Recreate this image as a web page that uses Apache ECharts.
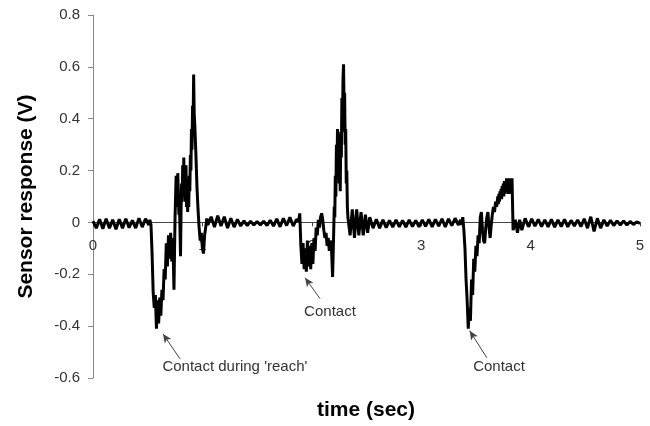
<!DOCTYPE html>
<html>
<head>
<meta charset="utf-8">
<title>Sensor response</title>
<script src="https://cdn.jsdelivr.net/npm/echarts@6/dist/echarts.min.js"></script>
<style>
  html, body { margin: 0; padding: 0; background: #fff; }
  #chart { width: 650px; height: 426px; }
</style>
</head>
<body>
<div id="chart"></div>
<script>
// [time (s), response (V)], one array per stretch
const restStart = [
  [0.00, 0.005], [0.03, -0.022], [0.06, 0.012], [0.09, -0.024], [0.12, 0.014], [0.15, -0.022],
  [0.18, 0.01], [0.21, -0.026], [0.24, 0.012], [0.27, -0.022], [0.30, 0.014], [0.33, -0.02],
  [0.36, 0.008], [0.39, -0.022], [0.42, 0.016], [0.45, -0.018], [0.48, 0.014], [0.51, -0.01]
]
const reachEvent = [
  [0.52, 0.01], [0.53, -0.01], [0.54, -0.12], [0.55, -0.27], [0.56, -0.33], [0.57, -0.28],
  [0.58, -0.41], [0.59, -0.3], [0.60, -0.39], [0.61, -0.29], [0.62, -0.36], [0.63, -0.26],
  [0.64, -0.3], [0.65, -0.18], [0.66, -0.22], [0.67, -0.08], [0.68, -0.17], [0.69, -0.05],
  [0.70, -0.14], [0.71, -0.04], [0.72, -0.15], [0.73, -0.06], [0.74, -0.26], [0.75, 0.02],
  [0.76, 0.18], [0.765, 0.06], [0.77, 0.1], [0.775, 0.19], [0.78, 0.12], [0.785, 0.03],
  [0.79, 0.08], [0.80, -0.13], [0.805, 0.05], [0.81, 0.15], [0.815, 0.08], [0.82, 0.22],
  [0.825, 0.12], [0.83, 0.25], [0.835, 0.1], [0.84, 0.2], [0.845, 0.08], [0.85, 0.22],
  [0.855, 0.06], [0.86, 0.14], [0.865, 0.04], [0.87, 0.1], [0.875, 0.06], [0.88, 0.18],
  [0.885, 0.12], [0.89, 0.26], [0.895, 0.2], [0.90, 0.36], [0.905, 0.28], [0.91, 0.45],
  [0.915, 0.38], [0.92, 0.57], [0.925, 0.42], [0.93, 0.38], [0.94, 0.27], [0.95, 0.14],
  [0.96, 0.05], [0.97, -0.02], [0.98, -0.07], [0.99, -0.04], [1.00, -0.1], [1.01, -0.12],
  [1.02, -0.05], [1.03, -0.02], [1.04, 0.015], [1.05, -0.01]
]
const restMiddle = [
  [1.08, 0.022], [1.11, -0.018], [1.14, 0.026], [1.17, -0.014], [1.20, 0.022], [1.23, -0.022],
  [1.26, 0.016], [1.29, -0.018], [1.32, 0.012], [1.35, -0.014], [1.38, 0.006], [1.41, -0.012],
  [1.44, 0.005], [1.47, -0.01], [1.50, 0.004], [1.53, -0.01], [1.56, 0.005], [1.59, -0.012],
  [1.62, 0.008], [1.65, -0.014], [1.68, 0.014], [1.71, -0.017], [1.74, 0.016], [1.77, -0.012],
  [1.80, 0.02], [1.83, -0.014], [1.86, 0.012]
]
const contactEvent = [
  [1.88, 0.005], [1.89, 0.035], [1.90, -0.09], [1.91, -0.16], [1.92, -0.08], [1.93, -0.18],
  [1.94, -0.1], [1.95, -0.19], [1.96, -0.07], [1.97, -0.17], [1.98, -0.09], [1.99, -0.18],
  [2.00, -0.08], [2.01, -0.16], [2.02, -0.06], [2.03, -0.11], [2.04, -0.02], [2.05, -0.05],
  [2.06, 0.01], [2.07, -0.02], [2.08, 0.02], [2.09, 0.035], [2.10, 0.01], [2.11, -0.03],
  [2.12, -0.06], [2.13, -0.04], [2.14, -0.09], [2.15, -0.06], [2.16, -0.11], [2.17, -0.07],
  [2.18, -0.1], [2.19, -0.21], [2.20, -0.04], [2.205, 0.06], [2.21, 0.02], [2.215, 0.18],
  [2.22, 0.1], [2.225, 0.3], [2.23, 0.2], [2.235, 0.36], [2.24, 0.22], [2.245, 0.34],
  [2.25, 0.15], [2.255, 0.3], [2.26, 0.12], [2.265, 0.35], [2.27, 0.25], [2.275, 0.48],
  [2.28, 0.35], [2.285, 0.55], [2.29, 0.61], [2.295, 0.45], [2.30, 0.5], [2.305, 0.3],
  [2.31, 0.36], [2.315, 0.15], [2.32, 0.2], [2.325, 0.06], [2.33, 0.02], [2.35, -0.05],
  [2.37, 0.05], [2.39, -0.06], [2.41, 0.05], [2.43, -0.05], [2.45, 0.04], [2.47, -0.05],
  [2.49, 0.03], [2.51, -0.04], [2.53, 0.02]
]
const restLate = [
  [2.56, -0.022], [2.59, 0.012], [2.62, -0.022], [2.65, 0.01], [2.68, -0.02], [2.71, 0.008],
  [2.74, -0.018], [2.77, 0.01], [2.80, -0.017], [2.83, 0.008], [2.86, -0.018], [2.89, 0.01],
  [2.92, -0.016], [2.95, 0.008], [2.98, -0.017], [3.01, 0.01], [3.04, -0.015], [3.07, 0.012],
  [3.10, -0.017], [3.13, 0.012], [3.16, -0.014], [3.19, 0.014], [3.22, -0.017], [3.25, 0.014],
  [3.28, -0.012], [3.31, 0.016], [3.34, -0.01]
]
const secondContact = [
  [3.36, 0.01], [3.37, -0.01], [3.38, 0.02], [3.39, -0.03], [3.40, -0.1], [3.41, -0.22],
  [3.42, -0.3], [3.43, -0.41], [3.44, -0.33], [3.45, -0.38], [3.46, -0.22], [3.47, -0.28],
  [3.48, -0.14], [3.49, -0.19], [3.50, -0.09], [3.51, -0.13], [3.52, -0.05], [3.53, -0.08],
  [3.54, 0.02], [3.55, 0.04], [3.56, -0.03], [3.57, -0.07], [3.58, -0.08], [3.59, -0.02],
  [3.60, 0.02], [3.61, 0.04], [3.62, -0.02], [3.63, -0.06], [3.64, -0.01], [3.65, 0.03],
  [3.66, 0.06], [3.67, 0.04], [3.68, 0.08], [3.69, 0.06], [3.70, 0.1], [3.705, 0.07],
  [3.71, 0.11], [3.715, 0.08], [3.72, 0.12], [3.725, 0.09], [3.73, 0.13], [3.735, 0.09],
  [3.74, 0.14], [3.745, 0.1], [3.75, 0.15], [3.755, 0.1], [3.76, 0.16], [3.765, 0.11],
  [3.77, 0.16], [3.775, 0.12], [3.78, 0.17], [3.785, 0.12], [3.79, 0.17], [3.795, 0.11],
  [3.80, 0.17], [3.805, 0.12], [3.81, 0.17], [3.815, 0.11], [3.82, 0.17], [3.825, 0.13],
  [3.83, 0.17], [3.84, -0.03], [3.86, 0.01], [3.88, -0.04], [3.90, 0.01], [3.92, -0.03]
]
const restEnd = [
  [3.95, 0.016], [3.98, -0.017], [4.01, 0.014], [4.04, -0.014], [4.07, 0.012], [4.10, -0.016],
  [4.13, 0.01], [4.16, -0.017], [4.19, 0.012], [4.22, -0.018], [4.25, 0.01], [4.28, -0.016],
  [4.31, 0.012], [4.34, -0.017], [4.37, 0.008], [4.40, -0.014], [4.43, 0.01], [4.46, -0.016],
  [4.49, 0.014], [4.52, -0.022], [4.55, 0.022], [4.58, -0.035], [4.61, 0.016], [4.64, -0.022],
  [4.67, 0.01], [4.70, -0.014], [4.73, 0.008], [4.76, -0.012], [4.79, 0.006], [4.82, -0.01],
  [4.85, 0.006], [4.88, -0.01], [4.91, 0.004], [4.94, -0.008], [4.97, 0.002], [5.00, -0.004]
]

// axis ranges and ticks
const timeRange = [0, 5, 1]
const voltRange = [-0.6, 0.8, 0.2]

// annotations, in data coordinates
const noteTexts = ["Contact during 'reach'", 'Contact', 'Contact']
const noteTextAt = [[1.297, -0.557], [2.166, -0.344], [3.711, -0.557]]
const noteTail = [[0.795, -0.526], [2.075, -0.294], [3.6, -0.522]]
const noteHead = [[0.64, -0.43], [1.938, -0.213], [3.443, -0.418]]

const trace = [].concat(restStart, reachEvent, restMiddle, contactEvent, restLate, secondContact, restEnd)
const font = 'Liberation Sans, Arial, sans-serif'

const grid = { left: 93, right: 10, top: 15, bottom: 48 }
const plotHeight = 426 - grid.top - grid.bottom
// lift the time axis (line, ticks and labels) up to the zero line
const zeroOffset = -plotHeight * (0 - voltRange[0]) / (voltRange[1] - voltRange[0])

const chart = echarts.init(document.getElementById('chart'))
chart.setOption({
  animation: false,
  backgroundColor: '#ffffff',
  textStyle: { fontFamily: font },
  grid: grid,
  xAxis: {
    type: 'value',
    min: timeRange[0],
    max: timeRange[1],
    interval: timeRange[2],
    offset: zeroOffset,
    axisLine: { onZero: false, lineStyle: { color: '#444', width: 1 } },
    axisTick: { show: true, length: 4, lineStyle: { color: '#444' } },
    axisLabel: { margin: 16, fontSize: 15, color: '#333', fontFamily: font },
    splitLine: { show: false }
  },
  yAxis: {
    type: 'value',
    min: voltRange[0],
    max: voltRange[1],
    interval: voltRange[2],
    name: 'Sensor response (V)',
    nameLocation: 'middle',
    nameGap: 56,
    nameTextStyle: { fontSize: 21, fontWeight: 'bold', color: '#000', fontFamily: font },
    axisLine: { show: true, onZero: false, lineStyle: { color: '#888' } },
    axisTick: { show: true, length: 5, lineStyle: { color: '#888' } },
    axisLabel: { margin: 13, fontSize: 15, color: '#333', fontFamily: font },
    splitLine: { show: false }
  },
  graphic: [
    {
      type: 'text',
      x: 366,
      y: 410,
      style: {
        text: 'time (sec)',
        font: 'bold 21px ' + font,
        fill: '#000',
        textAlign: 'center',
        textVerticalAlign: 'middle'
      }
    }
  ],
  series: [
    {
      type: 'line',
      data: trace,
      symbol: 'none',
      showSymbol: false,
      z: 5,
      lineStyle: { color: '#000', width: 3 },
      markLine: {
        silent: true,
        symbol: ['none', 'arrow'],
        symbolSize: [6, 9],
        label: { show: false },
        lineStyle: { color: '#444', width: 1, type: 'solid' },
        data: noteTail.map((tail, i) => [{ coord: tail }, { coord: noteHead[i] }])
      },
      markPoint: {
        silent: true,
        symbol: 'circle',
        symbolSize: 1,
        itemStyle: { color: 'rgba(0,0,0,0)' },
        label: {
          show: true,
          position: 'inside',
          formatter: (p) => p.name,
          fontSize: 15,
          color: '#333',
          fontFamily: font
        },
        data: noteTexts.map((text, i) => ({ name: text, coord: noteTextAt[i] }))
      }
    }
  ]
})
</script>
</body>
</html>
